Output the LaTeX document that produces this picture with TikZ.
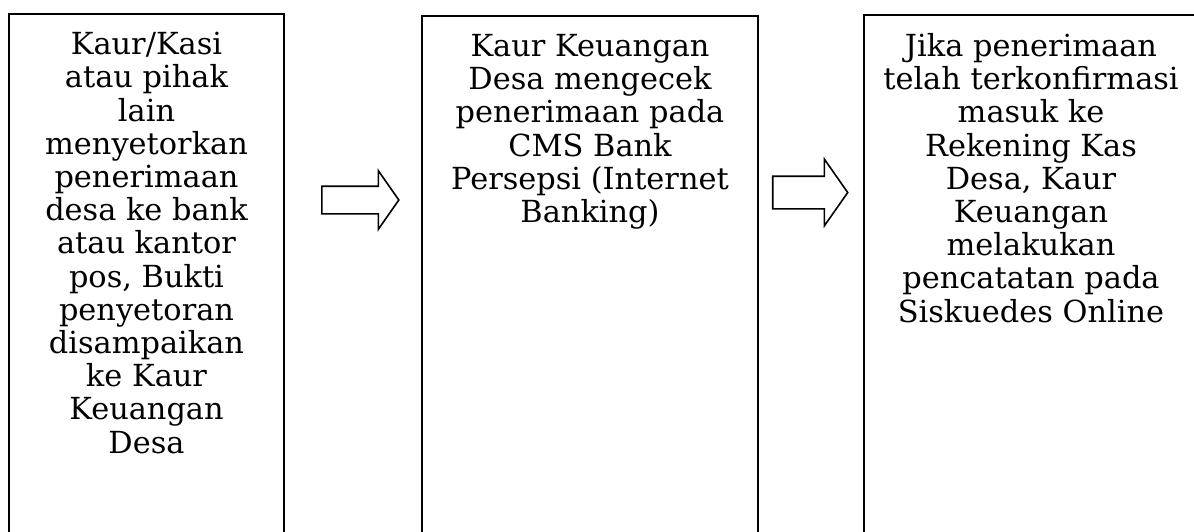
\documentclass[tikz,border=0pt]{standalone}
\usepackage{fontspec}
\setmainfont{DejaVu Serif}
\usetikzlibrary{positioning,shapes.arrows}

\tikzset{
  stepbox/.style={draw, line width=1pt, anchor=north west, inner sep=0pt, minimum height=320pt},
  boxtext/.style={align=center, inner sep=0pt, anchor=north,
    font=\fontsize{15.2pt}{16.6pt}\selectfont},
  blockarrow/.style={draw, line width=0.8pt, single arrow, inner sep=0pt,
    text depth=0pt, single arrow tip angle=110},
}

\begin{document}
\begin{tikzpicture}[x=0.5pt, y=-0.5pt]
  \useasboundingbox (0,0) rectangle (1194,531);
  \clip (0,0) rectangle (1194,531);

  % the three steps
  \node[stepbox, minimum width=137.5pt] (b1) at (8,13)  {};
  \node[stepbox, minimum width=168pt]   (b2) at (421,15) {};
  \node[stepbox, minimum width=167pt]   (b3) at (863,14) {};

  \node[boxtext, below=9.5pt of b1.north] (t1) {Kaur/Kasi\\atau pihak\\lain\\menyetorkan\\penerimaan\\desa ke bank\\atau kantor\\pos, Bukti\\penyetoran\\disampaikan\\ke Kaur\\Keuangan\\Desa};
  \node[boxtext, below=9.5pt of b2.north] (t2) {Kaur Keuangan\\Desa mengecek\\penerimaan pada\\CMS Bank\\Persepsi (Internet\\Banking)};
  \node[boxtext, below=9.5pt of b3.north] (t3) {Jika penerimaan\\telah terkonfirmasi\\masuk ke\\Rekening Kas\\Desa, Kaur\\Keuangan\\melakukan\\pencatatan pada\\Siskuedes Online};

  % arrows between the steps
  \node[blockarrow, minimum height=38.5pt, text height=13pt,
    single arrow head extend=7.75pt] (a1) at (355.5,200) {};
  \node[blockarrow, minimum height=37.5pt, text height=15.5pt,
    single arrow head extend=8.5pt] (a2) at (804.5,192.5) {};
\end{tikzpicture}
\end{document}
